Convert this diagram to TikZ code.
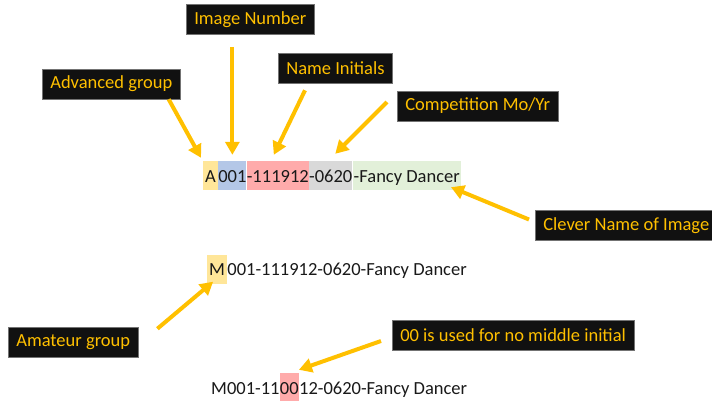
\documentclass[tikz,border=0pt]{standalone}
\usepackage{fontspec}
\setmainfont{Carlito}
\usepackage{tikz}
\usetikzlibrary{positioning}
\usetikzlibrary{arrows.meta}
\usepackage{xcolor}
\definecolor{gold}{HTML}{FFC000}
\definecolor{tagbg}{HTML}{111111}
\definecolor{hlyellow}{HTML}{FFE699}
\definecolor{hlblue}{HTML}{B4C7E7}
\definecolor{hlred}{HTML}{FFABAB}
\definecolor{hlgray}{HTML}{D9D9D9}
\definecolor{hlgreen}{HTML}{E2F0D9}

\begin{document}
\begin{tikzpicture}[x=1pt,y=-1pt,
    tag/.style={fill=tagbg,draw=black!55,line width=0.6pt,text=gold,font=\fontsize{18.5}{22}\selectfont,minimum height=30pt,inner xsep=8pt,anchor=west},
    part/.style={inner xsep=0pt,inner ysep=0pt,text height=21pt,text depth=8pt,font=\fontsize{18.5}{22}\selectfont,text=black!90},
    pointer/.style={gold,line width=4pt,-{Triangle[length=13pt,width=14pt]}}]
      \useasboundingbox (0,0) rectangle (712,400);
      \node[tag] (imgnum) at (186,19.5) {Image Number};
      \node[tag] (adv) at (42,84) {Advanced group};
      \node[tag] (init) at (278,68) {Name Initials};
      \node[tag] (comp) at (397,106) {Competition Mo/Yr};
      \node[tag] (clever) at (535,225.5) {Clever Name of Image};
      \node[tag] (amat) at (8,342) {Amateur group};
      \node[tag] (zero) at (392,335) {00 is used for no middle initial};
      \node[part,fill=hlyellow,inner xsep=2pt,anchor=west] (a) at (203,175.5) {A};
      \node[part,fill=hlblue,right=0pt of a] (b) {001};
      \node[part,fill=hlred,right=0pt of b] (c) {-111912};
      \node[part,fill=hlgray,right=0pt of c] (d) {-0620};
      \node[part,fill=hlgreen,inner xsep=1pt,right=0pt of d] (e) {-Fancy Dancer};
      \node[part,fill=hlyellow,inner xsep=2pt,anchor=west] (m) at (207,269) {M};
      \node[part,right=0pt of m] (mrest) {001-111912-0620-Fancy Dancer};
      \node[part,anchor=west] (p) at (211,387.5) {M001-11};
      \node[part,fill=hlred,right=0pt of p] (z) {00};
      \node[part,right=0pt of z] (q) {12-0620-Fancy Dancer};
      \draw[pointer] ([xshift=-12pt]adv.south east) -- ([shift={(-2pt,3pt)}]a.north west);
      \draw[pointer] (b.north |- imgnum.south) ++(0,12) -- ([yshift=6pt]b.north);
      \draw[pointer] ([shift={(27pt,-7pt)}]init.south west) -- ([shift={(-4pt,6pt)}]c.north);
      \draw[pointer] ([shift={(-10pt,4pt)}]comp.west) -- ([shift={(4.5pt,7pt)}]d.north);
      \draw[pointer] ([shift={(-6pt,6pt)}]clever.west) -- ([shift={(-10pt,3pt)}]e.south east);
      \draw[pointer] ([shift={(19pt,-2pt)}]amat.north east) -- ([shift={(-4pt,2pt)}]m.south);
      \draw[pointer] ([shift={(-11pt,-6pt)}]zero.west) -- ([yshift=3pt]z.north east);
    \end{tikzpicture}
\end{document}
